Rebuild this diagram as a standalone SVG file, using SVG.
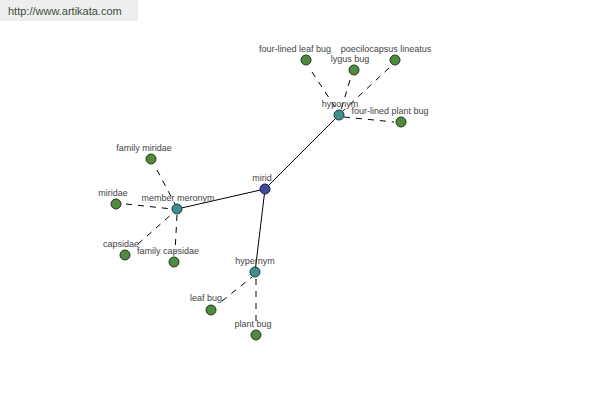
<svg xmlns="http://www.w3.org/2000/svg" width="600" height="400" viewBox="0 0 600 400">
<style>
.lbl{font-family:"Liberation Sans",Arial,sans-serif;font-size:9px;fill:#444;text-anchor:middle}
.leaf{fill:#4f8a3f;stroke:#1f3a1a;stroke-width:1}
.hub{fill:#3f8f8f;stroke:#1a3a3a;stroke-width:1}
.root{fill:#3f4a9a;stroke:#1a1a4a;stroke-width:1}
.solid{stroke:#000;stroke-width:1;fill:none}
.dash{stroke:#000;stroke-width:1;fill:none;stroke-dasharray:6,6}
</style>
<rect width="600" height="400" fill="#fff"/>
<g id="header">
<rect x="0" y="0" width="138" height="21" fill="#eeeeee"/>
<text x="8" y="15" style="font-family:'Liberation Sans',Arial,sans-serif;font-size:11px;fill:#3d4d3d">http://www.artikata.com</text>
</g>
<g id="connectors">
<line class="solid" x1="265" y1="189" x2="339" y2="115"/>
<line class="solid" x1="265" y1="189" x2="177" y2="209"/>
<line class="solid" x1="265" y1="189" x2="255" y2="272"/>
<line class="dash" x1="312" y1="72" x2="337" y2="110"/>
<line class="dash" x1="350" y1="80" x2="341" y2="110"/>
<line class="dash" x1="389" y1="68" x2="343" y2="111"/>
<line class="dash" x1="344" y1="117" x2="394" y2="122"/>
<line class="dash" x1="157" y1="170" x2="175" y2="204"/>
<line class="dash" x1="126" y1="204" x2="172" y2="209"/>
<line class="dash" x1="138" y1="244" x2="173" y2="213"/>
<line class="dash" x1="177" y1="215" x2="175" y2="252"/>
<line class="dash" x1="222" y1="301" x2="252" y2="277"/>
<line class="dash" x1="256" y1="279" x2="256" y2="326"/>
</g>
<g id="mirid"><circle class="root" cx="265" cy="189" r="5"/><text class="lbl" x="262" y="181">mirid</text></g>
<g id="hyponym"><circle class="hub" cx="339" cy="115" r="5"/><text class="lbl" x="340" y="107">hyponym</text></g>
<g id="member-meronym"><circle class="hub" cx="177" cy="209" r="5"/><text class="lbl" x="178" y="201">member meronym</text></g>
<g id="hypernym"><circle class="hub" cx="255" cy="272" r="5"/><text class="lbl" x="255" y="264">hypernym</text></g>
<g id="four-lined-leaf-bug"><circle class="leaf" cx="306" cy="60" r="5"/><text class="lbl" x="295" y="52">four-lined leaf bug</text></g>
<g id="poecilocapsus-lineatus"><circle class="leaf" cx="395" cy="60" r="5"/><text class="lbl" x="386" y="52">poecilocapsus lineatus</text></g>
<g id="lygus-bug"><circle class="leaf" cx="354" cy="70" r="5"/><text class="lbl" x="350" y="62">lygus bug</text></g>
<g id="four-lined-plant-bug"><circle class="leaf" cx="401" cy="122" r="5"/><text class="lbl" x="390" y="114">four-lined plant bug</text></g>
<g id="family-miridae"><circle class="leaf" cx="151" cy="159" r="5"/><text class="lbl" x="144" y="151">family miridae</text></g>
<g id="miridae"><circle class="leaf" cx="116" cy="204" r="5"/><text class="lbl" x="113" y="196">miridae</text></g>
<g id="capsidae"><circle class="leaf" cx="125" cy="255" r="5"/><text class="lbl" x="121" y="247">capsidae</text></g>
<g id="family-capsidae"><circle class="leaf" cx="174" cy="262" r="5"/><text class="lbl" x="168" y="254">family capsidae</text></g>
<g id="leaf-bug"><circle class="leaf" cx="211" cy="310" r="5"/><text class="lbl" x="206" y="301">leaf bug</text></g>
<g id="plant-bug"><circle class="leaf" cx="256" cy="335" r="5"/><text class="lbl" x="253" y="327">plant bug</text></g>
</svg>
